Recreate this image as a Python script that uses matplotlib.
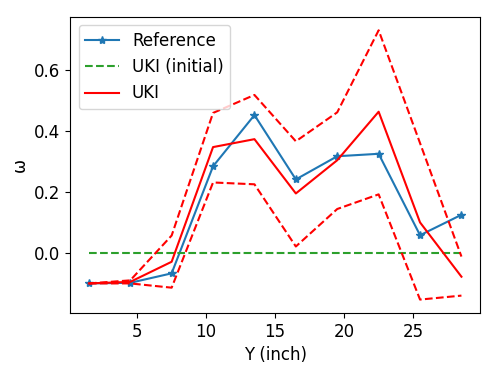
import matplotlib
matplotlib.use("Agg")
import matplotlib.pyplot as plt
import numpy as np

# positions along the span
y_pos = [1.5, 4.5, 7.5, 10.5, 13.5, 16.5, 19.5, 22.5, 25.5, 28.5]

omega_ref = [-0.100, -0.098, -0.067, 0.284, 0.452, 0.241, 0.317, 0.325, 0.058, 0.125]
omega_init = [0.0, 0.0, 0.0, 0.0, 0.0, 0.0, 0.0, 0.0, 0.0, 0.0]
omega_uki = [-0.100, -0.095, -0.029, 0.347, 0.373, 0.195, 0.304, 0.463, 0.100, -0.078]
omega_upper = [-0.100, -0.090, 0.057, 0.459, 0.518, 0.366, 0.461, 0.730, 0.360, -0.012]
omega_lower = [-0.100, -0.100, -0.114, 0.231, 0.225, 0.021, 0.144, 0.192, -0.153, -0.140]

fig, ax = plt.subplots(figsize=(4.98, 3.74), dpi=100)
fig.subplots_adjust(left=0.141, right=0.964, bottom=0.163, top=0.955)

ax.plot(y_pos, omega_ref, "*-", color="C0", label="Reference")
ax.plot(y_pos, omega_init, "--", color="C2", label="UKI (initial)")
ax.plot(y_pos, omega_uki, "-", color="red", label="UKI")
ax.plot(y_pos, omega_upper, "--", color="red")
ax.plot(y_pos, omega_lower, "--", color="red")

ax.set_xticks([5, 10, 15, 20, 25])
ax.set_yticks([0.0, 0.2, 0.4, 0.6])
ax.tick_params(labelsize=12)
ax.set_xlabel("Y (inch)", fontsize=12)
ax.set_ylabel("ω", fontsize=12)
ax.legend(loc="upper left", fontsize=12)

fig.savefig("out.png")
